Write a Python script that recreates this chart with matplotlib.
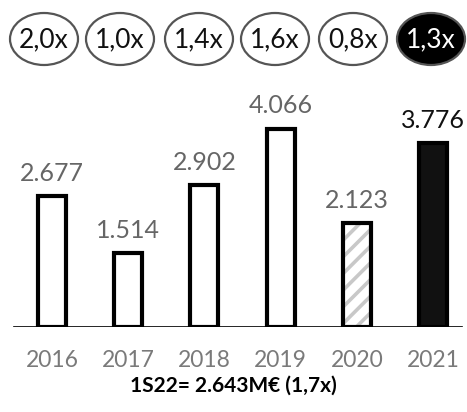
import matplotlib
matplotlib.use("Agg")
import matplotlib.pyplot as plt
from matplotlib.patches import Ellipse

years = ["2016", "2017", "2018", "2019", "2020", "2021"]
values = [2677, 1514, 2902, 4066, 2123, 3776]
value_labels = ["2.677", "1.514", "2.902", "4.066", "2.123", "3.776"]
multiples = ["2,0x", "1,0x", "1,4x", "1,6x", "0,8x", "1,3x"]
footnote = "1S22= 2.643M€ (1,7x)"

plt.rcParams['font.family'] = ['Lato', 'DejaVu Sans']
plt.rcParams['hatch.linewidth'] = 2.6

W, H = 467, 412
fig = plt.figure(figsize=(W / 100, H / 100), dpi=100)

# main bar axes
base_px = 85
ax = fig.add_axes([0, base_px / H, 1, (H - base_px) / H])
step = 76.2
c0 = 52
ax.set_xlim(-c0 / step, (W - c0) / step)
scale = 0.0488
ax.set_ylim(0, (H - base_px) / scale)
ax.axis('off')

faces = ['white'] * 4 + ['white', '#111111']
hatches = [None] * 4 + ['//', None]
for i, (v, f, h) in enumerate(zip(values, faces, hatches)):
    if h:
        ax.bar(i, v, width=0.37, facecolor=f, edgecolor='#c8c8c8', linewidth=0,
               hatch=h, zorder=3)
        ax.bar(i, v, width=0.37, facecolor='none', edgecolor='black',
               linewidth=3.0, zorder=4)
    else:
        ax.bar(i, v, width=0.37, facecolor=f, edgecolor='black', linewidth=3.0,
               zorder=3)
    col = '#111111' if i == 5 else '#666666'
    ax.annotate(value_labels[i], (i, v), xytext=(0, 8), textcoords='offset points',
                ha='center', va='bottom', fontsize=18, color=col)
    ax.annotate(years[i], (i, 0), xytext=(0, -16.5), textcoords='offset points',
                ha='center', va='top', fontsize=16.5, color='#7a7a7a')
ax.axhline(0, xmin=0.03, xmax=0.99, color='black', linewidth=1.2, zorder=2)

fig.text(0.5, (H - 386) / H, footnote, ha='center', va='center', fontsize=15,
         fontweight='bold', color='black')

# multiples ellipses
ea = fig.add_axes([0, 0, 1, 1])
ea.set_xlim(0, W)
ea.set_ylim(H, 0)
ea.axis('off')
ecx = [44, 120, 199, 275, 353, 431]
for i, (cx, m) in enumerate(zip(ecx, multiples)):
    dark = i == 5
    ea.add_patch(Ellipse((cx, 39), 68, 52,
                         facecolor='black' if dark else 'white',
                         edgecolor='#555555', linewidth=1.6))
    ea.text(cx, 40, m, ha='center', va='center', fontsize=19,
            color='white' if dark else '#111111')

fig.savefig("out.png", dpi=100)
